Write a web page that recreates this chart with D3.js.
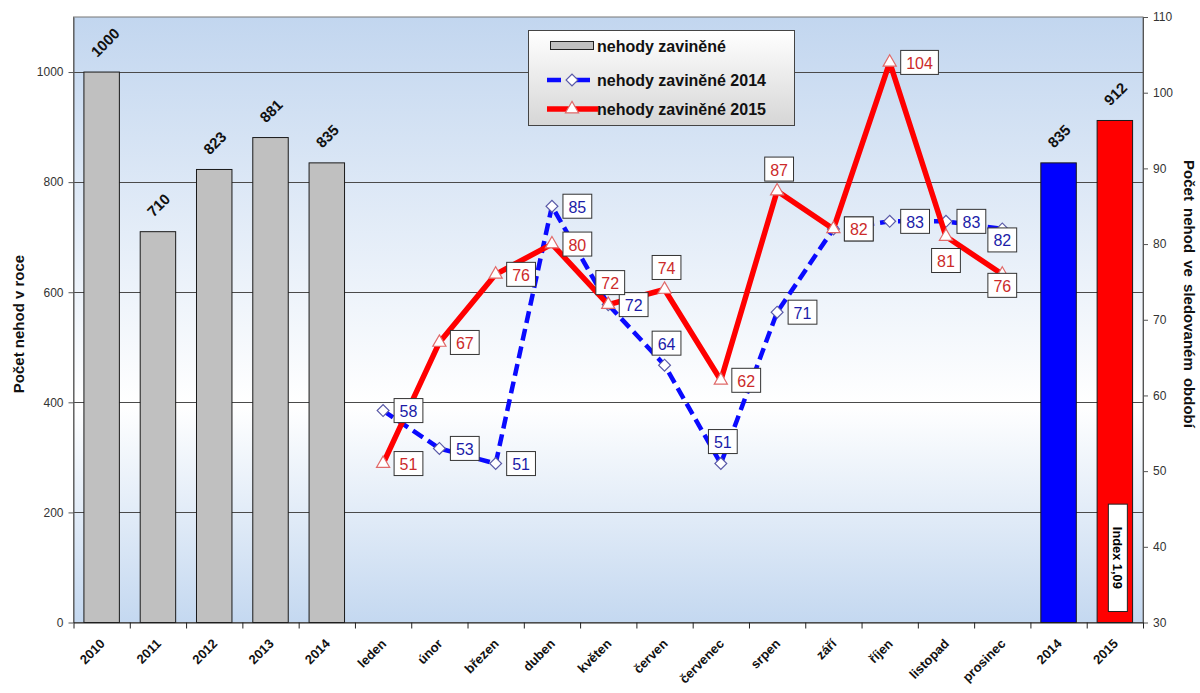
<!DOCTYPE html>
<html>
<head>
<meta charset="utf-8">
<script src="https://cdn.jsdelivr.net/npm/d3@7"></script>
<style>
  body { margin: 0; background: #fff; }
  svg { display: block; font-family: Arial, "Liberation Sans", sans-serif; }
</style>
</head>
<body>
<svg id="chart" width="1200" height="693"></svg>
<script>
// Annual totals
const yearLabels = ["2010", "2011", "2012", "2013", "2014"];
const yearTotals = [1000, 710, 823, 881, 835];

// Monthly counts for the two compared years
const monthLabels = ["leden", "únor", "březen", "duben", "květen", "červen",
  "červenec", "srpen", "září", "říjen", "listopad", "prosinec"];
const monthly2014 = [58, 53, 51, 85, 72, 64, 51, 71, 82, 83, 83, 82];
const monthly2015 = [51, 67, 76, 80, 72, 74, 62, 87, 82, 104, 81, 76];

// Totals for the observed period
const periodLabels = ["2014", "2015"];
const periodTotals = [835, 912];

// Axis ticks
const leftTicks = [0, 200, 400, 600, 800, 1000];
const rightTicks = [30, 40, 50, 60, 70, 80, 90, 100, 110];

// Where each point label sits: r = right, a = above, b = below, bn = just below
const place2014 = ["r", "r", "r", "r", "r", "a", "a", "r", "r", "r", "r", "bn"];
const place2015 = ["r", "r", "r", "r", "a", "a", "r", "a", "r", "r", "b", "bn"];

const categories = [...yearLabels, ...monthLabels, ...periodLabels];
const nYears = yearLabels.length;
const nMonths = monthLabels.length;

const svg = d3.select("#chart");
const plot = { left: 73.5, right: 1143, top: 17, bottom: 622.5 };

const x = d3.scaleBand().domain(d3.range(categories.length))
  .range([plot.left, plot.right]).padding(0);
const xEdges = d3.scaleLinear().domain([0, categories.length])
  .range([plot.left, plot.right]);
const yL = d3.scaleLinear().domain([0, 1100]).range([plot.bottom, plot.top]);
const yR = d3.scaleLinear().domain([30, 110]).range([plot.bottom, plot.top]);
const bw = x.bandwidth();
const cx = i => x(i) + bw / 2;

const defs = svg.append("defs");
const bg = defs.append("linearGradient").attr("id", "plotBg")
  .attr("x1", 0).attr("y1", 0).attr("x2", 0).attr("y2", 1);
bg.append("stop").attr("offset", "0%").attr("stop-color", "#c2d6ef");
bg.append("stop").attr("offset", "64%").attr("stop-color", "#ffffff");
bg.append("stop").attr("offset", "100%").attr("stop-color", "#c4d8f0");
const lg = defs.append("linearGradient").attr("id", "legendBg")
  .attr("x1", 0).attr("y1", 0).attr("x2", 0).attr("y2", 1);
lg.append("stop").attr("offset", "0%").attr("stop-color", "#ffffff");
lg.append("stop").attr("offset", "100%").attr("stop-color", "#d6d6d6");

// Plot area
svg.append("rect")
  .attr("x", plot.left).attr("y", plot.top)
  .attr("width", plot.right - plot.left).attr("height", plot.bottom - plot.top)
  .attr("fill", "url(#plotBg)").attr("stroke", "#777").attr("stroke-width", 1);

// Gridlines
svg.append("g").selectAll("line").data(leftTicks.filter(d => d > 0)).join("line")
  .attr("x1", plot.left).attr("x2", plot.right)
  .attr("y1", d => Math.round(yL(d)) + 0.5).attr("y2", d => Math.round(yL(d)) + 0.5)
  .attr("stroke", "#4a4a4a").attr("stroke-width", 1);

// Bars
const barW = bw * 0.63;
const bars = [
  ...yearTotals.map((v, i) => ({ i, v, fill: "#c0c0c0" })),
  ...periodTotals.map((v, k) => ({ i: nYears + nMonths + k, v, fill: k === 0 ? "#0000ff" : "#ff0000" }))
];
svg.append("g").selectAll("rect").data(bars).join("rect")
  .attr("x", d => cx(d.i) - barW / 2).attr("width", barW)
  .attr("y", d => yL(d.v)).attr("height", d => yL(0) - yL(d.v))
  .attr("fill", d => d.fill).attr("stroke", "#1a1a1a").attr("stroke-width", 1);

// Bar value labels, tilted 45 degrees
svg.append("g").selectAll("text").data(bars).join("text")
  .attr("transform", d => `translate(${cx(d.i) - 4.5},${yL(d.v) - 14}) rotate(-45)`)
  .attr("font-size", 15).attr("font-weight", "bold").attr("fill", "#111")
  .text(d => d.v);

// Index box inside the last bar
const idx = (periodTotals[1] / periodTotals[0]).toFixed(2).replace(".", ",");
const ix = cx(nYears + nMonths + 1) + 3;
svg.append("rect")
  .attr("x", ix - 9.5).attr("width", 19)
  .attr("y", yL(215)).attr("height", yL(20) - yL(215))
  .attr("fill", "#fff").attr("stroke", "#222").attr("stroke-width", 1);
svg.append("text")
  .attr("transform", `translate(${ix},${(yL(215) + yL(20)) / 2}) rotate(90)`)
  .attr("text-anchor", "middle").attr("dominant-baseline", "central")
  .attr("font-size", 13).attr("font-weight", "bold")
  .attr("textLength", 62).attr("lengthAdjust", "spacingAndGlyphs")
  .text("Index " + idx);

// Monthly lines
const mx = (d, i) => cx(nYears + i);
const line = d3.line().x(mx).y(d => yR(d));
const diamond = d3.symbol().type(d3.symbolSquare).size(70);
const triangle = d3.symbol().type(d3.symbolTriangle).size(75);

function drawSeries(values, color, dash, sym, symStroke, rot) {
  const g = svg.append("g");
  g.append("path").datum(values).attr("d", line)
    .attr("fill", "none").attr("stroke", color).attr("stroke-width", dash ? 4.5 : 5.5)
    .attr("stroke-dasharray", dash || null).attr("stroke-linejoin", "round");
  g.selectAll("path.m").data(values).join("path").attr("class", "m")
    .attr("d", sym)
    .attr("transform", (d, i) => `translate(${mx(d, i)},${yR(d)}) rotate(${rot})`)
    .attr("fill", "#fff").attr("stroke", symStroke).attr("stroke-width", 1.2);
}
drawSeries(monthly2014, "#0a0aff", "12,6", diamond, "#5a5aa8", 45);
drawSeries(monthly2015, "#ff0000", null, triangle, "#e06a6a", 0);

function drawLabels(values, places, color) {
  const g = svg.append("g");
  values.forEach((v, i) => {
    const px = mx(v, i), py = yR(v);
    const lab = g.append("g");
    const t = lab.append("text").attr("font-size", 16).attr("fill", color)
      .attr("text-anchor", "middle").attr("dominant-baseline", "central").text(v);
    const w = t.node().getComputedTextLength() + 11, h = 24;
    let bx, by;
    switch (places[i]) {
      case "a": bx = px + 2; by = py - 22; break;
      case "b": bx = px; by = py + 24; break;
      case "bn": bx = px; by = py + 11; break;
      default: bx = px + 11 + w / 2; by = py;
    }
    lab.insert("rect", "text").attr("x", bx - w / 2).attr("y", by - h / 2)
      .attr("width", w).attr("height", h)
      .attr("fill", "#fff").attr("stroke", "#333").attr("stroke-width", 1);
    t.attr("x", bx).attr("y", by + 1);
  });
}
drawLabels(monthly2014, place2014, "#1c1ca8");
drawLabels(monthly2015, place2015, "#cc2a2a");

// Axes
const styleAxis = g => {
  g.select(".domain").attr("stroke", "#555");
  g.selectAll(".tick line").attr("stroke", "#555");
  g.selectAll(".tick text").attr("fill", "#333").attr("font-size", 12)
    .attr("font-family", "Arial, 'Liberation Sans', sans-serif");
};
svg.append("g").attr("transform", `translate(${plot.left},0)`)
  .call(d3.axisLeft(yL).tickValues(leftTicks).tickFormat(d3.format("d"))
    .tickSize(5).tickSizeOuter(0).tickPadding(5))
  .call(styleAxis);
svg.append("g").attr("transform", `translate(${plot.right},0)`)
  .call(d3.axisRight(yR).tickValues(rightTicks).tickFormat(d3.format("d"))
    .tickSize(5).tickSizeOuter(0).tickPadding(5))
  .call(styleAxis);
svg.append("g").attr("transform", `translate(0,${plot.bottom})`)
  .call(d3.axisBottom(xEdges).tickValues(d3.range(categories.length + 1))
    .tickFormat("").tickSize(6).tickSizeOuter(0))
  .call(g => { g.select(".domain").attr("stroke", "#222"); g.selectAll(".tick line").attr("stroke", "#222"); });
svg.append("g").attr("transform", `translate(0,${plot.bottom})`)
  .call(d3.axisBottom(x).tickFormat(i => categories[i]).tickSize(0))
  .call(g => {
    g.select(".domain").remove();
    g.selectAll(".tick text")
      .attr("x", 0).attr("y", 0).attr("dy", 0)
      .attr("transform", "translate(4,22) rotate(-45)")
      .attr("text-anchor", "end").attr("fill", "#111")
      .attr("font-size", 13).attr("font-weight", "bold")
      .attr("font-family", "Arial, 'Liberation Sans', sans-serif");
  });

// Axis titles
svg.append("text")
  .attr("transform", `translate(18,324) rotate(-90)`)
  .attr("text-anchor", "middle").attr("dominant-baseline", "central")
  .attr("font-size", 15).attr("font-weight", "bold").attr("fill", "#111")
  .text("Počet nehod v roce");
svg.append("text")
  .attr("transform", `translate(1189,294) rotate(90)`)
  .attr("text-anchor", "middle").attr("dominant-baseline", "central")
  .attr("font-size", 15).attr("font-weight", "bold").attr("fill", "#111")
  .attr("word-spacing", 3)
  .text("Počet nehod ve sledovaném období");

// Legend
const legend = svg.append("g");
legend.append("rect").attr("x", 528.5).attr("y", 30.5).attr("width", 266).attr("height", 95)
  .attr("fill", "url(#legendBg)").attr("stroke", "#444").attr("stroke-width", 1);
const legendItems = ["nehody zaviněné", "nehody zaviněné 2014", "nehody zaviněné 2015"];
const rowY = [46, 80, 109];
legend.append("rect").attr("x", 550.5).attr("y", rowY[0] - 4.5).attr("width", 43).attr("height", 8)
  .attr("fill", "#c0c0c0").attr("stroke", "#222");
legend.append("line").attr("x1", 547).attr("x2", 598).attr("y1", rowY[1]).attr("y2", rowY[1])
  .attr("stroke", "#0a0aff").attr("stroke-width", 4.5).attr("stroke-dasharray", "14,8,3,4");
legend.append("path").attr("d", diamond).attr("transform", `translate(572,${rowY[1]}) rotate(45)`)
  .attr("fill", "#fff").attr("stroke", "#5a5aa8").attr("stroke-width", 1.2);
legend.append("line").attr("x1", 547).attr("x2", 598).attr("y1", rowY[2]).attr("y2", rowY[2])
  .attr("stroke", "#ff0000").attr("stroke-width", 5.5);
legend.append("path").attr("d", triangle).attr("transform", `translate(572,${rowY[2]})`)
  .attr("fill", "#fff").attr("stroke", "#e06a6a").attr("stroke-width", 1.2);
legend.selectAll("text.item").data(legendItems).join("text").attr("class", "item")
  .attr("x", 597).attr("y", (d, i) => rowY[i]).attr("dominant-baseline", "central")
  .attr("font-size", 16).attr("font-weight", "bold").attr("fill", "#111")
  .text(d => d);
</script>
</body>
</html>
